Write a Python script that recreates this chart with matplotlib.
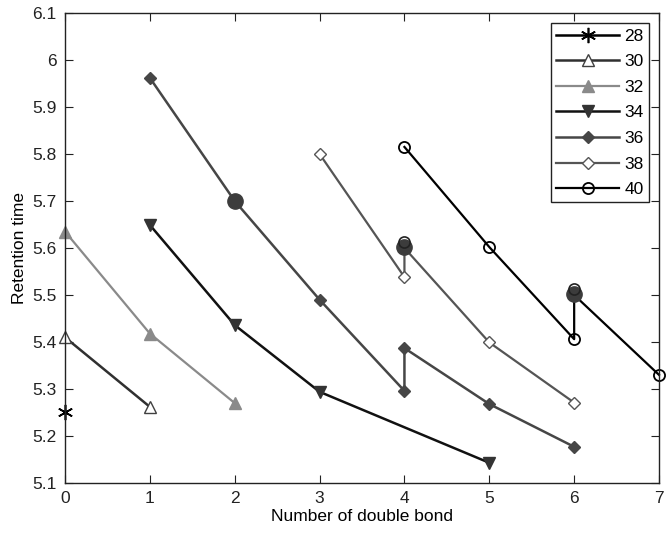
import matplotlib.pyplot as plt

plt.rcParams['font.family'] = ['Liberation Sans', 'DejaVu Sans']

# values
x28 = [0]
y28 = [5.25]
x30 = [0, 1]
y30 = [5.41, 5.262]
x32 = [0, 1, 2]
y32 = [5.635, 5.418, 5.27]
x34 = [1, 2, 3, 5]
y34 = [5.649, 5.436, 5.294, 5.143]
x36 = [1, 2, 3, 4, 4, 5, 6]
y36 = [5.962, 5.70, 5.49, 5.296, 5.387, 5.268, 5.177]
x38 = [3, 4, 4, 5, 6]
y38 = [5.80, 5.538, 5.60, 5.399, 5.271]
x40 = [4, 5, 6, 6, 7]
y40 = [5.815, 5.602, 5.406, 5.50, 5.33]
# overlapping filled points
x_dup = [2, 4, 6]
y_dup = [5.70, 5.602, 5.502]
x_dup_open = [4, 6]
y_dup_open = [5.613, 5.513]

fig = plt.figure(figsize=(6.72, 5.34), dpi=100)
ax = fig.add_axes([0.0967, 0.0955, 0.884, 0.8802])

ms = 7
ax.plot(x28, y28, color='black', lw=1.8, marker=(6, 2, 0), ms=11, mew=1.2, label='28', clip_on=False)
ax.plot(x30, y30, color='#303030', lw=1.8, marker='^', ms=ms + 1, mfc='white', mec='#404040', mew=1.0, label='30', clip_on=False)
ax.plot(x32, y32, color='#8a8a8a', lw=1.6, marker='^', ms=ms + 1, mfc='#8a8a8a', mec='#8a8a8a', label='32', clip_on=False)
ax.plot(x34, y34, color='#111111', lw=1.8, marker='v', ms=ms + 1, mfc='#333333', mec='#333333', label='34', clip_on=False)
ax.plot(x36, y36, color='#464646', lw=1.8, marker='D', ms=ms - 1, mfc='#464646', mec='#464646', label='36', clip_on=False)
ax.plot(x38, y38, color='#555555', lw=1.6, marker='D', ms=ms - 1, mfc='white', mec='#555555', mew=1.0, label='38', clip_on=False)
ax.plot(x40, y40, color='black', lw=1.6, marker='o', ms=ms + 1, mfc='none', mec='black', mew=1.3, label='40', clip_on=False)

ax.plot(x_dup, y_dup, ls='none', marker='o', ms=11, mfc='#3c3c3c', mec='#3c3c3c')
ax.plot(x_dup_open, y_dup_open, ls='none', marker='o', ms=8, mfc='none', mec='#222222', mew=1.2)

ax.set_xlim(0, 7)
ax.set_ylim(5.1, 6.1)
ax.set_xticks(range(8))
ax.set_yticks([5.1, 5.2, 5.3, 5.4, 5.5, 5.6, 5.7, 5.8, 5.9, 6.0, 6.1])
ax.set_yticklabels(['5.1', '5.2', '5.3', '5.4', '5.5', '5.6', '5.7', '5.8', '5.9', '6', '6.1'])
ax.tick_params(direction='in', top=True, right=True, length=6, labelsize=12.5, pad=6, colors='#222222')
for s in ax.spines.values():
    s.set_color('#222222')
    s.set_linewidth(1.0)

ax.set_xlabel('Number of double bond', fontsize=12.5, labelpad=2)
ax.set_ylabel('Retention time', fontsize=12.5, labelpad=4)

leg = ax.legend(loc='upper right', fontsize=12.5, handlelength=3.6, labelspacing=0.6,
                fancybox=False, framealpha=1, edgecolor='#222222', borderaxespad=0.6,
                handletextpad=0.3, borderpad=0.3)
leg.get_frame().set_linewidth(1.0)

fig.savefig('out.png', dpi=100)
